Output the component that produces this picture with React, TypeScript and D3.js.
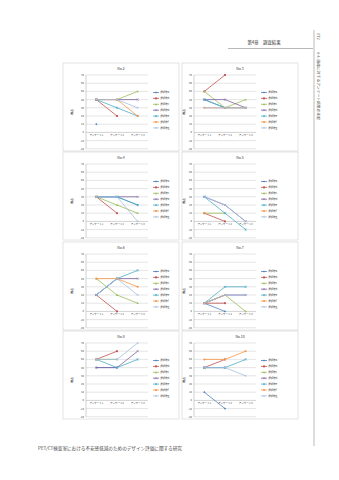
import React from "react";
import * as d3 from "d3";

const CATEGORIES = ["アンケート1", "アンケート2", "アンケート3"];
const SERIES = ["選択肢a", "選択肢b", "選択肢c", "選択肢d", "選択肢e", "選択肢f", "選択肢g"];
const COLORS = ["#4F81BD", "#C0504D", "#9BBB59", "#8064A2", "#4BACC6", "#F79646", "#A5BFE0"];
const Y_TICKS = [70, 60, 50, 40, 30, 20, 10, 0, -10, -20];
const TITLES = ["No.2", "No.3", "No.4", "No.5", "No.6", "No.7", "No.8", "No.10"];

type V = number | null;
const no2: V[][] = [[10, null, null], [40, 20, null], [40, 40, 50], [40, 40, 40], [40, 30, 20], [40, 40, 20], [40, 40, 30]];
const no3: V[][] = [[40, 30, null], [50, 70, null], [50, 30, 40], [40, 40, 30], [40, 30, 30], [30, 30, 30], [30, 30, 30]];
const no4: V[][] = [[30, 30, 20], [30, 10, null], [30, 20, 10], [30, 30, 30], [30, 30, 20], [30, null, null], [30, 30, 0]];
const no5: V[][] = [[30, null, null], [10, 0, null], [10, 10, null], [30, 20, 0], [30, 10, -10], [10, null, null], [30, 20, 0]];
const no6: V[][] = [[20, 40, null], [20, 0, null], [40, 20, 10], [20, 40, 40], [20, 40, 50], [40, 40, 30], [20, 40, 20]];
const no7: V[][] = [[10, 0, null], [10, 10, null], [10, 20, 0], [10, 20, 20], [10, 30, 30], [10, 20, null], [10, 20, 20]];
const no8: V[][] = [[40, 40, null], [50, 60, null], [50, 50, null], [40, 40, 60], [50, 40, 50], [50, null, null], [50, 50, 70]];
const no10: V[][] = [[10, -10, null], [40, 50, null], [40, 40, null], [40, 40, null], [40, 40, 50], [50, 50, 60], [40, 40, 30]];
const CHART_DATA = [no2, no3, no4, no5, no6, no7, no8, no10];

const FONT = "'Noto Sans CJK JP', 'Noto Sans', sans-serif";

const COLS = [
  { bx0: 63, bx1: 179, plotL: 86, plotR: 148, legX: 153, yTitle: 73, tickR: 84 },
  { bx0: 182, bx1: 298, plotL: 194, plotR: 256, legX: 261, yTitle: 185, tickR: 192 },
];
const ROWS = [75, 164, 254, 343];
const PLOT_H = 73.8;

function Marker({ i, x, y, c }: { i: number; x: number; y: number; c: string }) {
  const s = 1.1;
  switch (i) {
    case 0:
      return <path d={`M${x},${y - s}L${x + s},${y}L${x},${y + s}L${x - s},${y}Z`} fill={c} />;
    case 1:
      return <rect x={x - s * 0.85} y={y - s * 0.85} width={s * 1.7} height={s * 1.7} fill={c} />;
    case 2:
      return <path d={`M${x},${y - s}L${x + s},${y + s * 0.8}L${x - s},${y + s * 0.8}Z`} fill={c} />;
    case 3:
      return <path d={`M${x - s},${y - s}L${x + s},${y + s}M${x - s},${y + s}L${x + s},${y - s}`} stroke={c} strokeWidth={0.5} />;
    case 4:
      return <path d={`M${x - s},${y - s}L${x + s},${y + s}M${x - s},${y + s}L${x + s},${y - s}M${x},${y - s}L${x},${y + s}`} stroke={c} strokeWidth={0.5} />;
    case 5:
      return <circle cx={x} cy={y} r={s * 0.9} fill={c} />;
    default:
      return <path d={`M${x - s},${y}L${x + s},${y}M${x},${y - s}L${x},${y + s}`} stroke={c} strokeWidth={0.5} />;
  }
}

function Chart({ idx }: { idx: number }) {
  const col = COLS[idx % 2];
  const g0 = ROWS[Math.floor(idx / 2)];
  const data = CHART_DATA[idx];
  const x = d3.scalePoint<string>().domain(CATEGORIES).range([col.plotL, col.plotR]).padding(0.5);
  const y = d3.scaleLinear().domain([70, -20]).range([g0, g0 + PLOT_H]);
  const line = d3
    .line<V>()
    .defined((d) => d != null)
    .x((_, i) => x(CATEGORIES[i]) as number)
    .y((d) => y(d as number));
  const boxTop = g0 - 12;
  const boxBot = g0 + 76;
  return (
    <g>
      <rect x={col.bx0} y={boxTop} width={col.bx1 - col.bx0} height={boxBot - boxTop} fill="#fff" stroke="#c8c8c8" strokeWidth={0.5} />
      <text x={(col.bx0 + col.bx1) / 2} y={g0 - 5.5} fontSize={3.4} textAnchor="middle" fill="#333">
        {TITLES[idx]}
      </text>
      {Y_TICKS.map((t) => (
        <g key={t}>
          <line x1={col.plotL} x2={col.plotR} y1={y(t)} y2={y(t)} stroke={t === 0 ? "#9a9a9a" : "#c4c4c4"} strokeWidth={0.45} />
          <text x={col.tickR} y={y(t) + 0.9} fontSize={2.6} textAnchor="end" fill="#444">
            {t}
          </text>
        </g>
      ))}
      <line x1={col.plotL} x2={col.plotL} y1={g0} y2={g0 + PLOT_H} stroke="#9a9a9a" strokeWidth={0.45} />
      <text transform={`translate(${col.yTitle},${g0 + PLOT_H / 2}) rotate(-90)`} fontSize={2.8} textAnchor="middle" fill="#333" fontWeight="bold">
        得点
      </text>
      {CATEGORIES.map((c) => (
        <text key={c} x={x(c)} y={y(0) + 3.6} fontSize={2.5} textAnchor="middle" fill="#444">
          {c}
        </text>
      ))}
      {data.map((s, si) => (
        <g key={si}>
          <path d={line(s) || ""} fill="none" stroke={COLORS[si]} strokeWidth={0.8} />
          {s.map((v, ci) =>
            v == null ? null : <Marker key={ci} i={si} x={x(CATEGORIES[ci]) as number} y={y(v)} c={COLORS[si]} />
          )}
        </g>
      ))}
      {SERIES.map((name, si) => {
        const ly = g0 + 17.5 + si * 5.9;
        return (
          <g key={name}>
            <line x1={col.legX} x2={col.legX + 6} y1={ly} y2={ly} stroke={COLORS[si]} strokeWidth={0.8} />
            <Marker i={si} x={col.legX + 3} y={ly} c={COLORS[si]} />
            <text x={col.legX + 7.2} y={ly + 0.9} fontSize={2.5} fill="#333">
              {name}
            </text>
          </g>
        );
      })}
    </g>
  );
}

export default function App() {
  return (
    <svg
      width={339}
      height={480}
      viewBox="0 0 339 480"
      style={{ position: "absolute", left: 0, top: 0, background: "#fff" }}
      fontFamily={FONT}
    >
      <rect x={0} y={0} width={339} height={480} fill="#fff" />
      <text x={264} y={44} fontSize={4.4} textAnchor="middle" fill="#333">
        第4章　調査結果
      </text>
      <line x1={228} x2={313} y1={48.5} y2={48.5} stroke="#888" strokeWidth={0.6} />
      <line x1={314} x2={314} y1={30} y2={446} stroke="#aaa" strokeWidth={0.8} />
      <text transform="translate(317,33) rotate(90)" fontSize={4} fill="#555">
        072
      </text>
      <text transform="translate(317,52) rotate(90)" fontSize={3.8} fill="#555">
        4-4. 画像に対するアンケート結果の比較
      </text>
      {TITLES.map((_, i) => (
        <Chart key={i} idx={i} />
      ))}
      <text x={38} y={450} fontSize={4.6} fill="#444">
        PET/CT検査室における不安感低減のためのデザイン評価に関する研究
      </text>
    </svg>
  );
}
